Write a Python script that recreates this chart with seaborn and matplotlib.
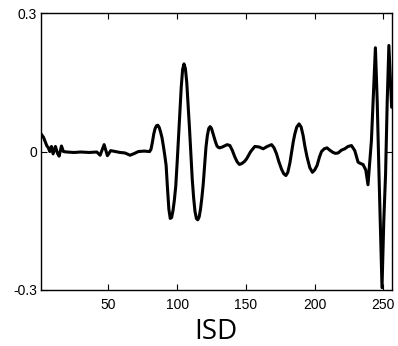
import matplotlib
matplotlib.use("Agg")
import matplotlib.pyplot as plt
import seaborn as sns
import pandas as pd

# values
isd = [1.1, 1.6, 2.8, 4.2, 5.3, 6.2, 7.4, 8.6, 9.8, 11.5, 13.0, 14.2, 15.9, 17.3,
       19.8, 25.0, 30.0, 36.0, 41.6, 44.0, 46.9, 49.3, 51.7, 55.0, 58.5, 62.0,
       65.8, 69.0, 71.8, 76.0,
       80, 81, 82, 83, 84, 85, 86, 87, 88, 89, 90, 91, 92, 93, 94, 95, 96, 97,
       98, 99, 100, 101, 102, 103, 104, 105, 106, 107, 108, 109, 110, 111, 112,
       113, 114, 115, 116, 117, 118, 119, 120, 121, 122, 123, 124, 125, 126,
       127, 128, 129, 130, 131,
       133.0, 136.4, 138.4, 140.2, 142.0, 143.6, 145.3, 147.0, 148.8, 150.5,
       153.5, 156.5, 159.5, 162.6, 165.5, 168.7, 170.5, 172.3, 174.0, 175.9,
       177.5, 179.1, 180.5, 182.0, 183.2, 184.5, 185.6, 187.0, 188.7, 190.2,
       191.6, 193.0, 194.5, 196.5, 198.4, 200.0, 201.8, 203.5, 205.0, 207.0,
       209.0, 211.0, 213.4, 215.2, 217.1, 219.5, 221.9, 224.3, 226.8, 229.2,
       231.6, 233.4, 235.2, 237.2, 238.8, 241.3, 242.8, 244.2, 245.5, 246.8,
       249.0, 250.3, 251.6, 252.8, 254.0, 256.0]
value = [0.038, 0.036, 0.031, 0.020, 0.012, 0.009, 0.000, 0.011, -0.005, 0.011,
         -0.004, -0.010, 0.012, 0.000, -0.001, -0.002, -0.001, -0.002, -0.001,
         -0.008, 0.015, -0.009, 0.002, 0.000, -0.002, -0.003, -0.008, -0.004,
         0.000, 0.001,
         0.000, 0.005, 0.020, 0.038, 0.050, 0.056, 0.057, 0.052, 0.042, 0.030,
         0.012, -0.008, -0.030, -0.080, -0.125, -0.145, -0.143, -0.128, -0.105,
         -0.075, -0.025, 0.030, 0.085, 0.140, 0.178, 0.190, 0.180, 0.150, 0.100,
         0.050, -0.005, -0.060, -0.100, -0.130, -0.145, -0.148, -0.142, -0.125,
         -0.100, -0.070, -0.030, 0.010, 0.035, 0.050, 0.054, 0.050, 0.040,
         0.030, 0.020, 0.012, 0.009, 0.008,
         0.010, 0.015, 0.013, 0.002, -0.012, -0.022, -0.028, -0.026, -0.022,
         -0.016, 0.000, 0.011, 0.010, 0.006, 0.011, 0.015, 0.008, -0.005,
         -0.022, -0.038, -0.048, -0.052, -0.045, -0.025, -0.002, 0.022, 0.038,
         0.053, 0.060, 0.053, 0.035, 0.010, -0.012, -0.035, -0.045, -0.040,
         -0.030, -0.012, 0.000, 0.006, 0.008, 0.003, -0.002, -0.004, -0.003,
         0.003, 0.006, 0.011, 0.013, 0.002, -0.023, -0.026, -0.028, -0.040,
         -0.072, 0.024, 0.130, 0.225, 0.110, -0.048, -0.295, -0.150, -0.048,
         0.110, 0.230, 0.096]
x_ticks = [50, 100, 150, 200, 250]
y_ticks = [-0.3, 0, 0.3]
y_tick_labels = ["-0.3", "0", "0.3"]

sns.set_style("white")
plt.rcParams["font.family"] = ["Liberation Sans", "DejaVu Sans"]
plt.rcParams["axes.unicode_minus"] = False
plt.rcParams["text.color"] = "black"
plt.rcParams["axes.labelcolor"] = "black"

df = pd.DataFrame({"ISD": isd, "value": value})

fig = plt.figure(figsize=(3.98, 3.46), dpi=100)
ax = fig.add_axes([0.103, 0.162, 0.881, 0.800])
sns.lineplot(data=df, x="ISD", y="value", ax=ax, color="black",
             linewidth=2.2, estimator=None, sort=False,
             solid_joinstyle="round", solid_capstyle="round")

ax.set_xlim(1, 256)
ax.set_ylim(-0.3, 0.3)
ax.set_xticks(x_ticks)
ax.set_xticklabels([str(t) for t in x_ticks])
ax.set_yticks(y_ticks)
ax.set_yticklabels(y_tick_labels)
ax.tick_params(direction="in", length=4, width=0.8, colors="black",
               labelcolor="black", labelsize=10, top=True, right=True,
               bottom=True, left=True, labeltop=False, labelright=False)
ax.tick_params(axis="x", pad=6)
ax.tick_params(axis="y", pad=3)
for s in ax.spines.values():
    s.set_visible(True)
    s.set_color("black")
    s.set_linewidth(1.0)
ax.set_ylabel("")
ax.set_xlabel("ISD", fontsize=20, color="black",
              family=["Open Sans", "DejaVu Sans"], labelpad=4)

fig.savefig("out.png", dpi=100, facecolor="white")
